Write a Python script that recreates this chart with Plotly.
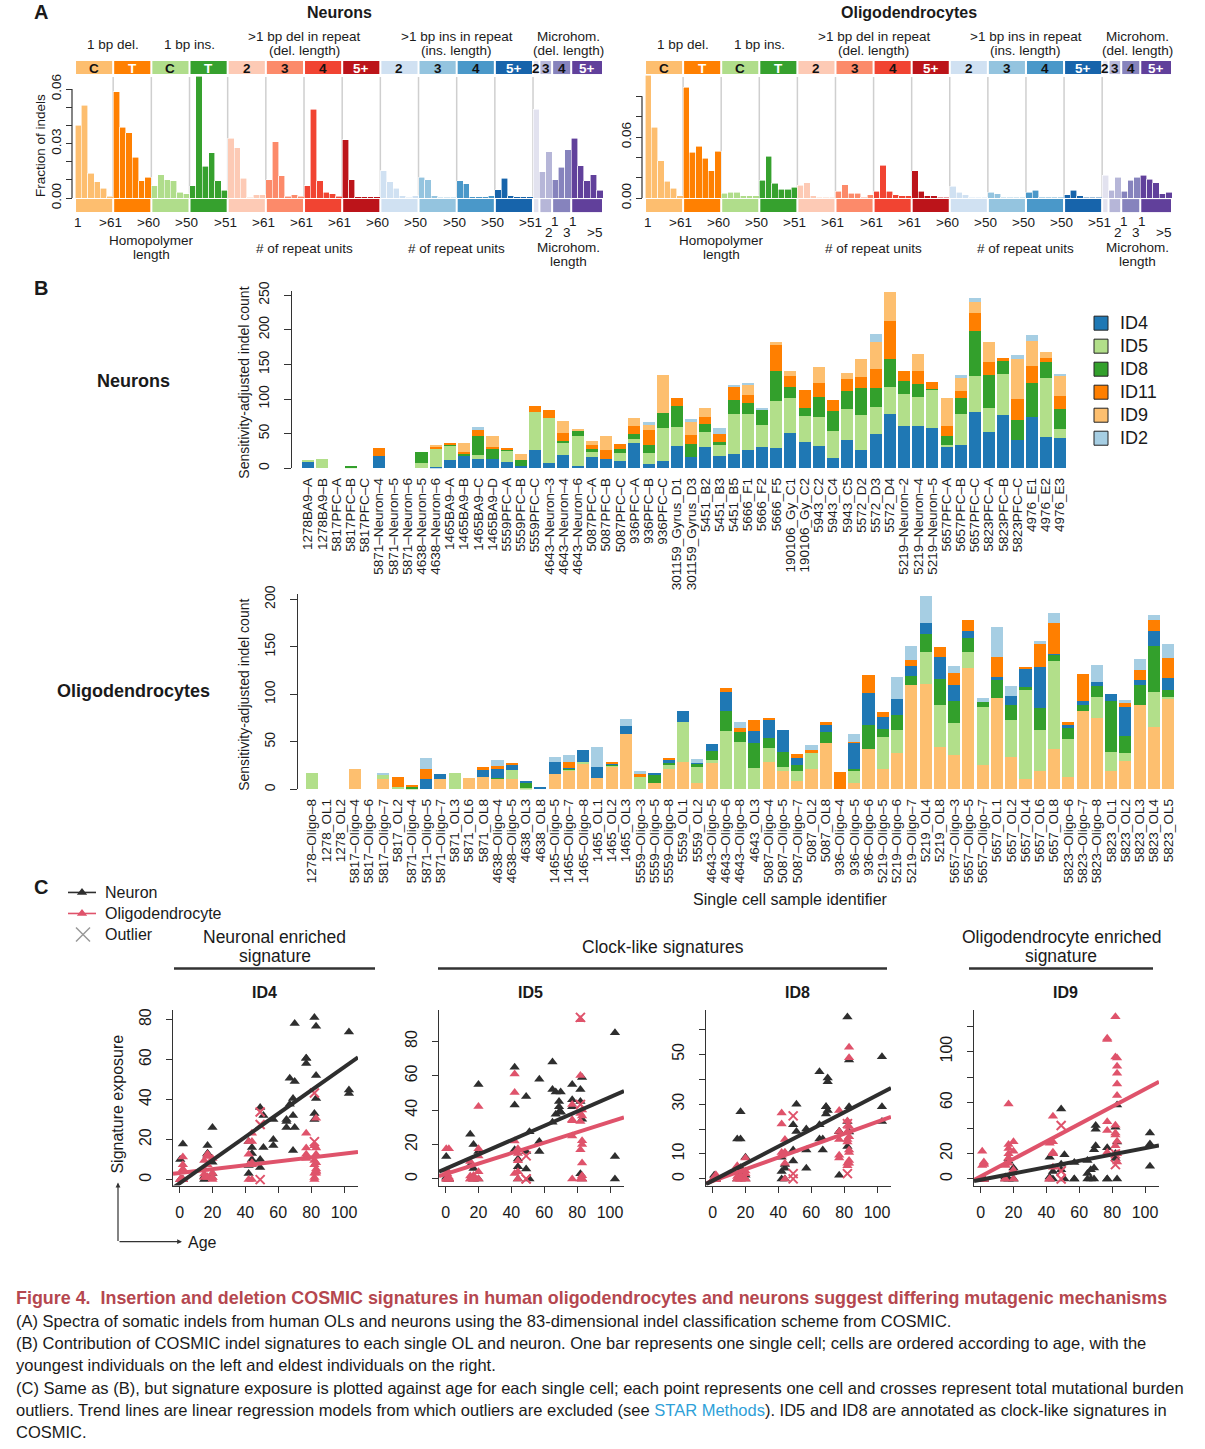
import numpy as np
import plotly.graph_objects as go

W, H = 1205, 1449
FONT = "Liberation Sans, Arial, Helvetica, sans-serif"
INK = "#1a1a1a"
# the page photograph maps a layout pixel row y to 9 + 0.985*y; positions below are given in target pixels
Y_OFF, Y_SC = 9.0, 0.985


def fx(p):
    return p / W


def fy(p):
    return 1 - ((p - Y_OFF) / Y_SC) / H


# ---------------- Panel A data ----------------
group_sizes = [6, 6, 6, 6, 6, 6, 6, 6, 6, 6, 6, 6, 1, 2, 3, 5]
group_labels = ["C", "T", "C", "T", "2", "3", "4", "5+", "2", "3", "4", "5+", "2", "3", "4", "5+"]
group_colors = ["#FDBE6F", "#FF8001", "#B0DD8B", "#36A12E", "#FDCAB5", "#FC8A6A", "#F14432", "#BC141A",
                "#D0E1F2", "#94C4DF", "#4A98C9", "#1764AB", "#E2E2EF", "#B6B6D8", "#8683BD", "#61409B"]
group_text_colors = ["#111", "white", "#111", "white", "#111", "#111", "#111", "white",
                     "#111", "#111", "#111", "white", "#111", "#111", "#111", "white"]
header_labels = [["1 bp del."], ["1 bp ins."], [">1 bp del in repeat", "(del. length)"],
                 [">1 bp ins in repeat", "(ins. length)"], ["Microhom.", "(del. length)"]]
bottom_titles = [["Homopolymer", "length"], ["# of repeat units"], ["# of repeat units"], ["Microhom.", "length"]]
boundary_labels = ["1", ">61", ">60", ">50", ">51", ">61", ">61", ">61", ">60", ">50", ">50", ">50", ">51"]
mh_upper_labels = ["1", "1"]
mh_lower_labels = ["2", "3", ">5"]

neuron_spectrum = [
    0.040, 0.051, 0.0138, 0.009, 0.0053, 0.0011,
    0.0585, 0.039, 0.036, 0.0225, 0.0096, 0.0115,
    0.0067, 0.0129, 0.0102, 0.0096, 0.0031, 0.0024,
    0.0067, 0.067, 0.0176, 0.025, 0.0096, 0.0042,
    0.033, 0.0276, 0.0109, 0.0005, 0.0018, 0.0018,
    0.0102, 0.031, 0.0122, 0.0011, 0.0018, 0.0011,
    0.0067, 0.049, 0.0096, 0.0031, 0.0024, 0.0011,
    0.032, 0.0102, 0.0007, 0.0007, 0.0007, 0.0007,
    0.015, 0.009, 0.0055, 0.0013, 0.0005, 0.0013,
    0.0116, 0.0102, 0.0013, 0.0005, 0.0005, 0.0005,
    0.0096, 0.008, 0.0007, 0.0007, 0.0007, 0.0013,
    0.0047, 0.0109, 0.0013, 0.0007, 0.0007, 0.0007,
    0.049,
    0.0145, 0.0256,
    0.0102, 0.017, 0.0267,
    0.033, 0.0178, 0.0096, 0.0129, 0.0042]

oligo_spectrum = [
    0.1207, 0.0695, 0.0367, 0.0164, 0.0098, 0.0023,
    0.109, 0.045, 0.051, 0.039, 0.0269, 0.046,
    0.0046, 0.0056, 0.0056, 0.0023, 0.0023, 0.0023,
    0.0174, 0.041, 0.0144, 0.0085, 0.0085, 0.0108,
    0.0128, 0.0151, 0.0023, 0.001, 0.001, 0.001,
    0.0066, 0.0131, 0.0046, 0.0046, 0.001, 0.0033,
    0.0066, 0.0325, 0.0066, 0.0033, 0.0023, 0.0023,
    0.0269, 0.0066, 0.0023, 0.0023, 0.001, 0.001,
    0.0118, 0.0056, 0.0033, 0.001, 0.001, 0.001,
    0.0056, 0.0043, 0.001, 0.001, 0.001, 0.001,
    0.0056, 0.0075, 0.001, 0.001, 0.001, 0.001,
    0.0033, 0.0075, 0.0023, 0.001, 0.001, 0.001,
    0.0223,
    0.0075, 0.0203,
    0.0066, 0.0174, 0.0203,
    0.0226, 0.0184, 0.0151, 0.0043, 0.0056]

# ---------------- Panel B data ----------------
neuron_cells = [
    "1278BA9–A", "1278BA9–B", "5817PFC–A", "5817PFC–B", "5817PFC–C", "5871–Neuron–4", "5871–Neuron–5",
    "5871–Neuron–6", "4638–Neuron–5", "4638–Neuron–6", "1465BA9–A", "1465BA9–B", "1465BA9–C", "1465BA9–D",
    "5559PFC–A", "5559PFC–B", "5559PFC–C", "4643–Neuron–3", "4643–Neuron–4", "4643–Neuron–6", "5087PFC–A",
    "5087PFC–B", "5087PFC–C", "936PFC–A", "936PFC–B", "936PFC–C", "301159_Gyrus_D1", "301159_Gyrus_D3",
    "5451_B2", "5451_B3", "5451_B5", "5666_F1", "5666_F2", "5666_F5", "190106_Gy_C1", "190106_Gy_C2",
    "5943_C2", "5943_C4", "5943_C5", "5572_D2", "5572_D3", "5572_D4", "5219–Neuron–2", "5219–Neuron–4",
    "5219–Neuron–5", "5657PFC–A", "5657PFC–B", "5657PFC–C", "5823PFC–A", "5823PFC–B", "5823PFC–C",
    "4976_E1", "4976_E2", "4976_E3"]

neuron_ID4 = [10, 0, 0, 0, 0, 17.8, 0, 0, 0, 1.5,
              12, 17, 13, 13, 8.7, 3, 26, 7, 19, 3,
              16, 13, 10, 36, 6, 10, 32, 16, 30, 17,
              20, 26, 30, 29, 50.6, 37.6, 32, 14.5, 40.5, 26,
              49, 78, 60.7, 60.7, 58, 30, 33, 81, 52, 76.6,
              40.5, 73.7, 44.8, 43]
neuron_ID5 = [1, 13, 0, 0.5, 0, 0, 0, 0, 8, 26,
              20, 0, 6, 0, 16, 0, 55, 65, 17, 43,
              7, 0, 11.6, 5.8, 16, 48, 27.5, 0, 21.7, 16,
              58, 52, 33, 68, 50.6, 37.6, 42, 39, 45, 50.6,
              39, 39, 46, 42, 55, 3, 45, 52, 34.7, 59,
              0, 0, 85, 13]
neuron_ID8 = [0, 0, 0, 1.5, 0, 0, 0, 0, 16, 0,
              2, 4.5, 27, 16, 1.5, 8.7, 0, 0, 3, 8.7,
              4.3, 0, 5.8, 7.2, 11.6, 21.7, 30, 19, 11.6, 4.3,
              20, 16, 21.7, 43, 16, 11.6, 29, 29, 26, 39,
              27.5, 40.5, 19, 19, 1.5, 13, 23, 65, 47.7, 18.8,
              29, 49, 23, 29]
neuron_ID11 = [0, 0, 0, 0, 0, 11.6, 0, 0, 0, 3,
               2.5, 1.5, 9, 1.5, 3, 0, 8.7, 11.6, 11.6, 0,
               5.8, 13, 7.2, 11.6, 21.7, 0, 11.6, 13, 10, 11.6,
               19, 11.6, 0, 37.6, 16, 26, 20, 16, 17.3, 16,
               27.5, 55, 14.5, 19, 10, 14.5, 10, 26, 18.8, 4.3,
               30, 24.6, 5.8, 20]
neuron_ID9 = [0, 0, 0, 0, 0, 0, 0, 0, 0, 1.5,
              0, 14, 0, 16, 0, 8.7, 0, 0, 17, 1.5,
              5.8, 20, 0, 11.6, 7.2, 55, 0, 19, 13, 0,
              0, 14.5, 0, 4.3, 7.2, 0, 23, 0, 8.7, 26,
              39, 42, 0, 24.6, 0, 40.5, 20, 16, 29, 0,
              58, 36, 10, 27.5]
neuron_ID2 = [0, 0, 0, 0, 0, 0, 0, 0, 0, 0,
              0, 0, 4, 0, 0, 0, 0, 0, 0, 0,
              0, 0, 0, 0, 4.3, 0, 0, 4.3, 0, 8.7,
              3, 3, 3, 0, 0, 0, 0, 0, 0, 0,
              11.6, 0, 0, 0, 0, 0, 3, 5.8, 0, 0,
              5.8, 8.7, 0, 4.3]

oligo_cells = [
    "1278–Oligo–8", "1278_OL1", "1278_OL2", "5817–Oligo–4", "5817–Oligo–6", "5817–Oligo–7", "5817_OL2",
    "5871–Oligo–4", "5871–Oligo–5", "5871–Oligo–7", "5871_OL3", "5871_OL6", "5871_OL8", "4638–Oligo–4",
    "4638–Oligo–5", "4638_OL3", "4638_OL8", "1465–Oligo–5", "1465–Oligo–7", "1465–Oligo–8", "1465_OL1",
    "1465_OL2", "1465_OL3", "5559–Oligo–3", "5559–Oligo–5", "5559–Oligo–8", "5559_OL1", "5559_OL2",
    "4643–Oligo–5", "4643–Oligo–6", "4643–Oligo–8", "4643_OL3", "5087–Oligo–4", "5087–Oligo–5",
    "5087–Oligo–7", "5087_OL2", "5087_OL8", "936–Oligo–4", "936–Oligo–5", "936–Oligo–6", "5219–Oligo–5",
    "5219–Oligo–6", "5219–Oligo–7", "5219_OL4", "5219_OL8", "5657–Oligo–3", "5657–Oligo–5", "5657–Oligo–7",
    "5657_OL1", "5657_OL2", "5657_OL4", "5657_OL6", "5657_OL8", "5823–Oligo–6", "5823–Oligo–7",
    "5823–Oligo–8", "5823_OL1", "5823_OL2", "5823_OL3", "5823_OL4", "5823_OL5"]

oligo_ID9 = [0, 0, 0, 21.8, 0, 10.6, 0, 0, 0, 11.3,
             0, 12.3, 13.4, 11.3, 10.6, 0, 0, 16.5, 19.7, 27,
             12.3, 24, 58.8, 0, 7, 21.8, 29.2, 6.3, 28, 0,
             0, 0, 29.2, 19.7, 9.2, 21, 49.3, 0, 6.3, 42,
             21, 38, 109.5, 110.5, 45, 36, 127.4, 26, 95.7, 34.5,
             11.3, 19.7, 42.2, 13.4, 83, 74.6, 19.7, 29.6, 88.4, 65.5,
             95]
oligo_ID5 = [17.6, 0, 0, 0, 0, 4.9, 2.8, 1, 0, 0,
             17.6, 0, 0, 0, 10.2, 1.7, 0, 0, 1, 2,
             0, 1, 0, 13.4, 0, 4.2, 42.2, 17.6, 3.2, 61,
             50.3, 22, 14.8, 4.2, 10.6, 17.6, 0, 0, 13.4, 0,
             34.5, 25, 0, 33.8, 43.3, 33.4, 16.9, 60.2, 0, 38,
             94, 43.3, 92.6, 40.1, 0, 22.2, 20, 9.2, 0, 36.6,
             1.8]
oligo_ID8 = [0, 0, 0, 0, 0, 0, 0, 1.7, 0, 0,
             0, 0, 0, 1, 0, 5.3, 0, 0, 0.7, 0,
             0, 1.4, 0, 0, 8.4, 2.1, 0, 3.2, 9.5, 22,
             10.6, 26.4, 10.6, 15.8, 6.3, 0, 10.6, 0, 2.1, 25.3,
             8.4, 15.8, 9.5, 19, 27.5, 23.2, 14.8, 5.3, 19, 15.8,
             2.1, 22.2, 6.3, 10.6, 6.3, 11.6, 52.8, 16.9, 21, 48.6,
             7.4]
oligo_ID4 = [0, 0, 0, 0, 0, 0, 0, 0, 11.3, 5.3,
             0, 0, 7.4, 9.5, 5.3, 1, 2.8, 12.7, 1.4, 12.7,
             11.6, 1, 7.4, 0, 1, 3.2, 10.6, 1, 7.4, 19,
             0, 12.7, 19, 23.2, 7.4, 0, 8.4, 0, 27.5, 33.8,
             12.7, 15.8, 10.6, 11.6, 23.2, 16.9, 7.4, 0, 3.2, 9.5,
             19, 43.3, 1, 3.2, 4.2, 4.2, 8.4, 30.6, 5.3, 15.8,
             12.7]
oligo_ID11 = [0, 0, 0, 0, 0, 0, 10.6, 2, 10.6, 0,
              0, 0, 3.2, 3.2, 1, 0, 0, 0, 6.3, 0,
              0, 0.7, 0, 3.2, 0, 1, 0, 0, 0, 4.2,
              3.2, 11.6, 1, 0, 4.2, 3.2, 2.1, 18.7, 1, 19,
              5.3, 0, 6.3, 0, 10.6, 12.7, 11.6, 0, 21, 0,
              2.1, 24.3, 32.7, 3.2, 27.5, 0, 0, 4.2, 10.6, 11.6,
              21]
oligo_ID2 = [0, 0, 0, 0, 0, 1, 0, 0, 11.6, 0,
             0, 0, 0, 6.3, 0, 0, 0, 5.3, 7.4, 0,
             21, 0, 7.4, 3.2, 0, 0, 0, 4.2, 0, 0,
             6.3, 0, 0, 0, 0, 5.3, 0, 0, 8.4, 0,
             0, 23.2, 14.8, 28.5, 0, 7.4, 0, 4.2, 31.7, 10.6,
             0, 3.2, 10.6, 0, 0, 18, 0, 3.2, 11.6, 5.3,
             14.8]

sig_colors = {"ID4": "#1F78B4", "ID5": "#B2DF8A", "ID8": "#33A02C",
              "ID11": "#FF7F00", "ID9": "#FDBF6F", "ID2": "#A6CEE3"}
neuron_sigs = {"ID4": neuron_ID4, "ID5": neuron_ID5, "ID8": neuron_ID8,
               "ID11": neuron_ID11, "ID9": neuron_ID9, "ID2": neuron_ID2}
oligo_sigs = {"ID4": oligo_ID4, "ID5": oligo_ID5, "ID8": oligo_ID8,
              "ID11": oligo_ID11, "ID9": oligo_ID9, "ID2": oligo_ID2}
neuron_stack_order = ["ID4", "ID5", "ID8", "ID11", "ID9", "ID2"]
oligo_stack_order = ["ID9", "ID5", "ID8", "ID4", "ID11", "ID2"]
legend_sigs = ["ID4", "ID5", "ID8", "ID11", "ID9", "ID2"]

# ---------------- Panel C data (age of donor for each cell) ----------------
neuron_age = [0.4, 0.4, 1, 1, 1, 2, 2, 2, 15, 15,
              17, 17, 17, 17, 20, 20, 20, 42, 42, 42,
              44, 44, 44, 49, 49, 49, 51, 51, 57, 57,
              57, 65, 65, 65, 67, 67, 69, 69, 69, 70,
              70, 70, 77, 77, 77, 82, 82, 82, 83, 83,
              83, 103, 103, 103]
oligo_age = [0.4, 0.4, 0.4, 1, 1, 1, 1, 2, 2, 2,
             2, 2, 2, 15, 15, 15, 15, 17, 17, 17,
             17, 17, 17, 20, 20, 20, 20, 20, 42, 42,
             42, 42, 44, 44, 44, 44, 44, 49, 49, 49,
             77, 77, 77, 77, 77, 82, 82, 82, 82, 82,
             82, 82, 82, 83, 83, 83, 83, 83, 83, 83,
             83]
oligo_outlier_cells = ["936–Oligo–4", "936–Oligo–5", "936–Oligo–6", "5657_OL4", "5657_OL6"]
scatter_sigs = ["ID4", "ID5", "ID8", "ID9"]
scatter_ytick_labels = {
    "ID4": (["0", "20", "40", "60", "80"], [0, 20, 40, 60, 80]),
    "ID5": (["0", "20", "40", "60", "80"], [0, 20, 40, 60, 80]),
    "ID8": (["0", "10", "", "30", "", "50", ""], [0, 10, 20, 30, 40, 50, 60]),
    "ID9": (["0", "20", "", "60", "", "100", ""], [0, 20, 40, 60, 80, 100, 120]),
}
legend_c_labels = ["Neuron", "Oligodendrocyte", "Outlier"]

caption_title = "Figure 4.  Insertion and deletion COSMIC signatures in human oligodendrocytes and neurons suggest differing mutagenic mechanisms"
caption_lines = [
    "(A) Spectra of somatic indels from human OLs and neurons using the 83-dimensional indel classification scheme from COSMIC.",
    "(B) Contribution of COSMIC indel signatures to each single OL and neuron. One bar represents one single cell; cells are ordered according to age, with the",
    "youngest individuals on the left and eldest individuals on the right.",
    "(C) Same as (B), but signature exposure is plotted against age for each single cell; each point represents one cell and crosses represent total mutational burden",
    "outliers. Trend lines are linear regression models from which outliers are excluded (see <span style='color:#2E9FD8'>STAR Methods</span>). ID5 and ID8 are annotated as clock-like signatures in",
    "COSMIC.",
]

# =====================================================================
fig = go.Figure()
annotations = []
shapes = []
layout_axes = {}


def txt(x, y, s, size=14, bold=False, color=INK, xref="paper", yref="paper",
        xanchor="center", yanchor="middle", angle=0):
    if bold:
        s = "<b>" + s + "</b>"
    annotations.append(dict(x=x, y=y, xref=xref, yref=yref, text=s, showarrow=False,
                            font=dict(family=FONT, size=size, color=color),
                            xanchor=xanchor, yanchor=yanchor, textangle=angle))


# ---------------- Panel A ----------------
bar_colors = [c for c, n in zip(group_colors, group_sizes) for _ in range(n)]
starts = [int(s) for s in np.cumsum([0] + group_sizes[:-1])]
n_ch = len(neuron_spectrum)

A_cfg = [
    dict(spec=neuron_spectrum, title="Neurons", xd=(75, 603), ypos=72, ppu=1816.7,
         tv=[0, 0.01, 0.02, 0.03, 0.04, 0.05, 0.06], tt=["0.00", "", "", "0.03", "", "", "0.06"],
         xa="x", ya="y", xn="xaxis", yn="yaxis"),
    dict(spec=oligo_spectrum, title="Oligodendrocytes", xd=(645, 1172), ypos=642, ppu=1016.7,
         tv=[0, 0.02, 0.04, 0.06, 0.08, 0.10], tt=["0.00", "", "", "0.06", "", ""],
         xa="x2", ya="y2", xn="xaxis2", yn="yaxis2"),
]
header_groups = [(0, 1), (2, 3), (4, 7), (8, 11), (12, 15)]
title_groups = [(0, 3), (4, 7), (8, 11), (12, 15)]
title_rows = [(239, 253), (247,), (247,), (246, 260)]

for cfg in A_cfg:
    xa, ya = cfg["xa"], cfg["ya"]
    fig.add_trace(go.Bar(x=list(range(n_ch)), y=cfg["spec"], width=1.0,
                         marker=dict(color=bar_colors, line=dict(color="white", width=0.6)),
                         xaxis=xa, yaxis=ya, showlegend=False, hoverinfo="skip"))
    ytop = (197 - 74) / cfg["ppu"]
    layout_axes[cfg["xn"]] = dict(domain=[fx(cfg["xd"][0]), fx(cfg["xd"][1])], range=[-0.5, n_ch - 0.5],
                                  anchor=ya, showticklabels=False, ticks="", showline=False,
                                  showgrid=False, zeroline=False, fixedrange=True)
    layout_axes[cfg["yn"]] = dict(domain=[fy(197), fy(74)], range=[0, ytop], anchor="free",
                                  position=fx(cfg["ypos"]), tickmode="array", tickvals=cfg["tv"],
                                  ticktext=cfg["tt"], ticks="outside", ticklen=6, tickcolor="#333",
                                  tickangle=-90, tickfont=dict(family=FONT, size=13.5, color=INK),
                                  showline=False, showgrid=False, zeroline=False)
    shapes.append(dict(type="line", xref="paper", yref=ya, x0=fx(cfg["ypos"]), x1=fx(cfg["ypos"]),
                       y0=0, y1=cfg["tv"][-1], line=dict(color="#333", width=1.2)))
    for s, n, c, lab, tc in zip(starts, group_sizes, group_colors, group_labels, group_text_colors):
        for (yt, yb) in [(60, 73), (198, 211)]:
            shapes.append(dict(type="rect", xref=xa, yref="paper", x0=s - 0.5 + 0.16, x1=s + n - 0.5 - 0.16,
                               y0=fy(yb), y1=fy(yt), fillcolor=c, line=dict(width=0), layer="above"))
        txt(s + (n - 1) / 2, fy(67), lab, size=13.5, bold=True, color=tc, xref=xa)
    for s in starts[1:13]:
        shapes.append(dict(type="line", xref=xa, yref="paper", x0=s - 0.5, x1=s - 0.5,
                           y0=fy(197), y1=fy(76), line=dict(color="#CFCFCF", width=1.5), layer="below"))
    for (g0, g1), lines in zip(header_groups, header_labels):
        cx = (starts[g0] + starts[g1] + group_sizes[g1] - 1) / 2
        if len(lines) == 1:
            txt(cx, fy(43), lines[0], size=13.5, xref=xa)
        else:
            txt(cx, fy(35), lines[0], size=13.5, xref=xa)
            txt(cx, fy(49), lines[1], size=13.5, xref=xa)
    txt(0, fy(221), boundary_labels[0], size=13.5, xref=xa)
    for k, lab in enumerate(boundary_labels[1:], start=1):
        txt(6 * k - 0.9, fy(221), lab, size=13.5, xref=xa)
    for lab, xv in zip(mh_upper_labels, [75.0, 77.85]):
        txt(xv, fy(220), lab, size=13.5, xref=xa)
    for lab, xv in zip(mh_lower_labels, [73.95, 76.8, 81.15]):
        txt(xv, fy(231), lab, size=13.5, xref=xa)
    for (g0, g1), lines, rows in zip(title_groups, bottom_titles, title_rows):
        cx = (starts[g0] + starts[g1] + group_sizes[g1] - 1) / 2
        for line, r in zip(lines, rows):
            txt(cx, fy(r), line, size=13.5, xref=xa)
    txt(fx((cfg["xd"][0] + cfg["xd"][1]) / 2), fy(11), cfg["title"], size=16, bold=True)

txt(fx(40), fy(145), "Fraction of indels", size=13.5, angle=-90)

# ---------------- Panel B ----------------
B_cfg = [
    dict(cells=neuron_cells, sigs=neuron_sigs, order=neuron_stack_order, xa="x3", ya="y3",
         xn="xaxis3", yn="yaxis3", xd=(292, 1070), c0=308, step=14.19, base=467, ppu=0.692, top=290,
         tv=[0, 50, 100, 150, 200, 250], label="Neurons", ly=380),
    dict(cells=oligo_cells, sigs=oligo_sigs, order=oligo_stack_order, xa="x4", ya="y4",
         xn="xaxis4", yn="yaxis4", xd=(298, 1178), c0=312, step=14.27, base=788, ppu=0.95, top=593,
         tv=[0, 50, 100, 150, 200], label="Oligodendrocytes", ly=690),
]
for cfg in B_cfg:
    n = len(cfg["cells"])
    xs = list(range(n))
    for sig in cfg["order"]:
        fig.add_trace(go.Bar(x=xs, y=cfg["sigs"][sig], width=0.85, name=sig,
                             marker=dict(color=sig_colors[sig], line=dict(width=0)),
                             xaxis=cfg["xa"], yaxis=cfg["ya"], showlegend=False, hoverinfo="skip"))
    lo = (cfg["xd"][0] - cfg["c0"]) / cfg["step"]
    hi = (cfg["xd"][1] - cfg["c0"]) / cfg["step"]
    layout_axes[cfg["xn"]] = dict(domain=[fx(cfg["xd"][0]), fx(cfg["xd"][1])], range=[lo, hi],
                                  anchor=cfg["ya"], tickmode="array", tickvals=xs, ticktext=cfg["cells"],
                                  tickangle=-90, tickfont=dict(family=FONT, size=13.5, color=INK),
                                  ticks="", showline=False, showgrid=False, zeroline=False,
                                  ticklabelstandoff=6)
    layout_axes[cfg["yn"]] = dict(domain=[fy(cfg["base"]), fy(cfg["top"])],
                                  range=[0, (cfg["base"] - cfg["top"]) / cfg["ppu"]], anchor=cfg["xa"],
                                  tickmode="array", tickvals=cfg["tv"], ticks="outside", ticklen=7,
                                  tickcolor="#333", tickangle=-90, ticklabelstandoff=9,
                                  tickfont=dict(family=FONT, size=14, color=INK),
                                  showline=True, linecolor="#333", linewidth=1.3,
                                  showgrid=False, zeroline=False)
    txt(fx(133), fy(cfg["ly"]), cfg["label"], size=18, bold=True)
    txt(fx(244), fy((cfg["base"] + cfg["top"]) / 2 + 3), "Sensitivity-adjusted indel count", size=14, angle=-90)

txt(fx(790), fy(898), "Single cell sample identifier", size=16)

# legend for panel B (drawn as boxes + labels)
for i, sig in enumerate(legend_sigs):
    yc = 322 + 23 * i
    shapes.append(dict(type="rect", xref="paper", yref="paper", x0=fx(1094), x1=fx(1108),
                       y0=fy(yc + 7), y1=fy(yc - 7), fillcolor=sig_colors[sig],
                       line=dict(color="#222", width=1)))
    txt(fx(1118), fy(yc), sig, size=18, xanchor="left")

# ---------------- Panel C ----------------
NEU_C = "#2E2E2E"
OLI_C = "#DF536B"
C_x = [(173, 358), (439, 624), (706, 891), (974, 1159)]
C_yr = {"ID4": [-3, 85], "ID5": [-3.9, 98.6], "ID8": [-2.7, 68], "ID9": [-5.2, 133]}
XR = [-4, 108.5]
is_out = [c in oligo_outlier_cells for c in oligo_cells]

for i, sig in enumerate(scatter_sigs):
    xa, ya = "x%d" % (5 + i), "y%d" % (5 + i)
    nv = np.array(neuron_sigs[sig], dtype=float)
    ov = np.array(oligo_sigs[sig], dtype=float)
    na = np.array(neuron_age, dtype=float)
    oa = np.array(oligo_age, dtype=float)
    keep = ~np.array(is_out)
    fig.add_trace(go.Scatter(x=na, y=nv, mode="markers", showlegend=False, hoverinfo="skip",
                             marker=dict(symbol="triangle-up", size=9, color=NEU_C),
                             xaxis=xa, yaxis=ya))
    fig.add_trace(go.Scatter(x=oa[keep], y=ov[keep], mode="markers", showlegend=False, hoverinfo="skip",
                             marker=dict(symbol="triangle-up", size=9, color=OLI_C),
                             xaxis=xa, yaxis=ya))
    fig.add_trace(go.Scatter(x=oa[~keep], y=ov[~keep], mode="markers", showlegend=False, hoverinfo="skip",
                             marker=dict(symbol="x-thin-open", size=9, color=OLI_C,
                                         line=dict(color=OLI_C, width=2)),
                             xaxis=xa, yaxis=ya))
    xs_line = np.array(XR)
    bo = np.polyfit(oa[keep], ov[keep], 1)
    bn = np.polyfit(na, nv, 1)
    fig.add_trace(go.Scatter(x=xs_line, y=np.polyval(bo, xs_line), mode="lines", showlegend=False,
                             hoverinfo="skip", line=dict(color=OLI_C, width=4), xaxis=xa, yaxis=ya))
    fig.add_trace(go.Scatter(x=xs_line, y=np.polyval(bn, xs_line), mode="lines", showlegend=False,
                             hoverinfo="skip", line=dict(color=NEU_C, width=4), xaxis=xa, yaxis=ya))
    tt, tv = scatter_ytick_labels[sig]
    layout_axes["xaxis%d" % (5 + i)] = dict(domain=[fx(C_x[i][0]), fx(C_x[i][1])], range=XR, anchor=ya,
                                            tickmode="array", tickvals=[0, 20, 40, 60, 80, 100],
                                            ticks="outside", ticklen=6, tickcolor="#333",
                                            ticklabelstandoff=6,
                                            tickfont=dict(family=FONT, size=16, color=INK),
                                            showline=True, linecolor="#333", linewidth=1.3,
                                            showgrid=False, zeroline=False)
    layout_axes["yaxis%d" % (5 + i)] = dict(domain=[fy(1184), fy(1008)], range=C_yr[sig], anchor=xa,
                                            tickmode="array", tickvals=tv, ticktext=tt,
                                            ticks="outside", ticklen=6, tickcolor="#333", tickangle=-90,
                                            ticklabelstandoff=8,
                                            tickfont=dict(family=FONT, size=16, color=INK),
                                            showline=True, linecolor="#333", linewidth=1.3,
                                            showgrid=False, zeroline=False)
    txt(fx((C_x[i][0] + C_x[i][1]) / 2 - 1), fy(991), sig, size=16, bold=True)

# legend for panel C: glyphs on a full-figure overlay axis (target pixel units)
layout_axes["xaxis9"] = dict(domain=[0, 1], range=[0, W], visible=False, anchor="y9", fixedrange=True)
layout_axes["yaxis9"] = dict(domain=[0, 1], range=[Y_OFF + Y_SC * H, Y_OFF], visible=False,
                             anchor="x9", fixedrange=True)
leg_rows = [891, 912, 933]
for yc, col in zip(leg_rows[:2], [NEU_C, OLI_C]):
    fig.add_trace(go.Scatter(x=[68, 96], y=[yc, yc], mode="lines", line=dict(color=col, width=1.6),
                             xaxis="x9", yaxis="y9", showlegend=False, hoverinfo="skip"))
    fig.add_trace(go.Scatter(x=[82], y=[yc], mode="markers", marker=dict(symbol="triangle-up", size=9, color=col),
                             xaxis="x9", yaxis="y9", showlegend=False, hoverinfo="skip"))
fig.add_trace(go.Scatter(x=[83], y=[leg_rows[2]], mode="markers",
                         marker=dict(symbol="x-thin-open", size=14, color="#999", line=dict(color="#999", width=1.5)),
                         xaxis="x9", yaxis="y9", showlegend=False, hoverinfo="skip"))
for yc, lab in zip(leg_rows, legend_c_labels):
    txt(fx(103), fy(yc), lab, size=16, xanchor="left")

heads = [((174, 375), ["Neuronal enriched", "signature"]),
         ((438, 887), ["Clock-like signatures"]),
         ((969, 1153), ["Oligodendrocyte enriched", "signature"])]
for (a, b), lines in heads:
    cx = fx((a + b) / 2)
    if len(lines) == 1:
        txt(cx, fy(946), lines[0], size=17.5)
    else:
        txt(cx, fy(936), lines[0], size=17.5)
        txt(cx, fy(955), lines[1], size=17.5)
    shapes.append(dict(type="line", xref="paper", yref="paper", x0=fx(a), x1=fx(b), y0=fy(967), y1=fy(967),
                       line=dict(color="#333", width=2.5)))

txt(fx(118), fy(1103), "Signature exposure", size=16, angle=-90)
annotations.append(dict(x=fx(118), y=fy(1181), xref="paper", yref="paper", ax=0, ay=60, text="",
                        showarrow=True, arrowhead=2, arrowsize=0.8, arrowwidth=1.2, arrowcolor="#333"))
annotations.append(dict(x=fx(182), y=fy(1240), xref="paper", yref="paper", ax=-64, ay=0, text="",
                        showarrow=True, arrowhead=2, arrowsize=0.8, arrowwidth=1.2, arrowcolor="#333"))
txt(fx(186), fy(1241), "Age", size=16, xanchor="left")

# panel letters
txt(fx(32), fy(11), "A", size=20, bold=True, xanchor="left")
txt(fx(32), fy(287), "B", size=20, bold=True, xanchor="left")
txt(fx(32), fy(886), "C", size=20, bold=True, xanchor="left")

# caption
txt(fx(14), fy(1296), caption_title, size=17.9, bold=True, color="#B5474F", xanchor="left")
for j, line in enumerate(caption_lines):
    txt(fx(14), fy(1319 + 22.3 * j), line, size=16.5, xanchor="left")

fig.update_layout(
    width=W, height=H, margin=dict(l=0, r=0, t=0, b=0),
    paper_bgcolor="white", plot_bgcolor="rgba(0,0,0,0)",
    barmode="stack", hovermode=False, showlegend=False,
    font=dict(family=FONT, color=INK),
    annotations=annotations, shapes=shapes,
    **layout_axes,
)

fig.write_html("out.html", config={"displayModeBar": False},
               post_script="document.body.style.margin='0px';")
